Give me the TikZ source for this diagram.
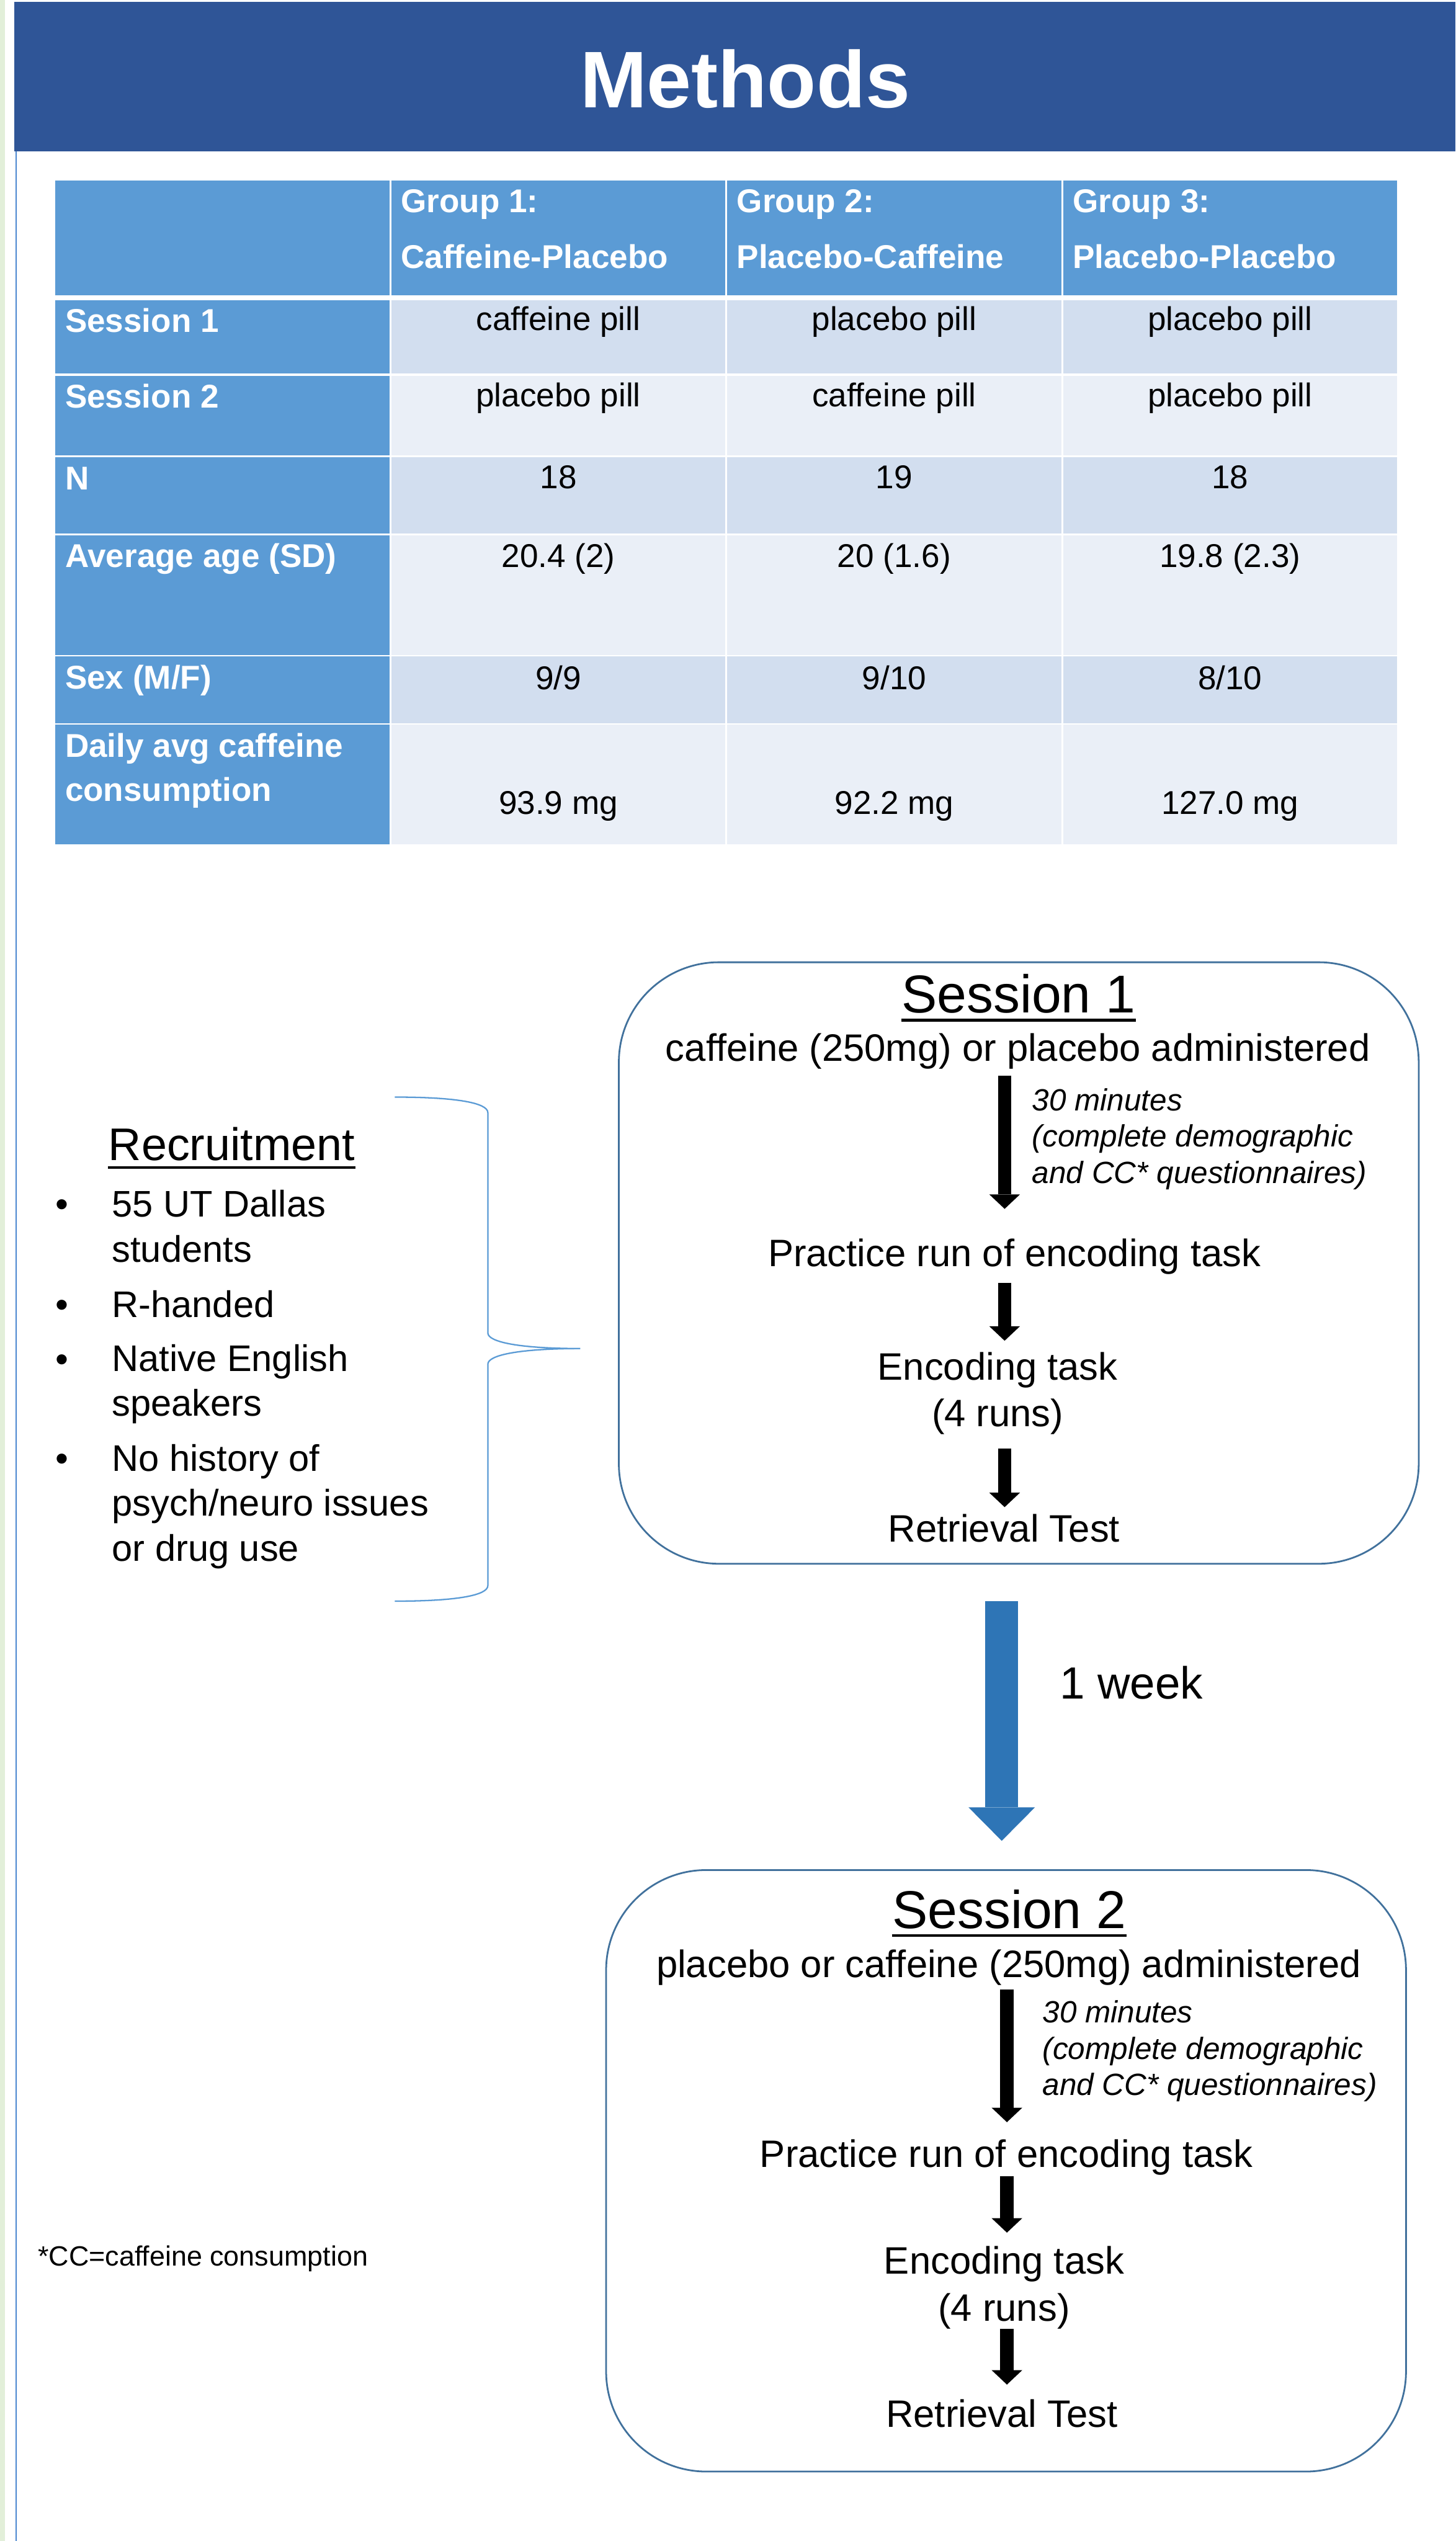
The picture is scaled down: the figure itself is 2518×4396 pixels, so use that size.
\documentclass[tikz,border=0pt]{standalone}
\usepackage{fontspec}
\setmainfont{Liberation Sans}
\usetikzlibrary{arrows.meta}
\definecolor{bandblue}{HTML}{2F5597}
\definecolor{tabblue}{HTML}{5B9BD5}
\definecolor{rowdark}{HTML}{D2DEEF}
\definecolor{rowlight}{HTML}{EAEFF7}
\definecolor{boxline}{HTML}{41719C}
\definecolor{weekblue}{HTML}{2E75B6}
\definecolor{edgegreen}{HTML}{E2EFD9}
\definecolor{edgeblue}{HTML}{4A86D0}
\newcommand{\setfs}[2]{\fontsize{#1}{#2}\selectfont}
\tikzset{
  rowlab/.style={anchor=base west, inner sep=0pt, text=white, font=\setfs{16.2}{19}\bfseries},
  cellval/.style={anchor=base, inner sep=0pt, font=\setfs{16.2}{19}},
  sessbox/.style={draw=boxline, line width=0.85pt, rounded corners=1.73cm, inner sep=0pt,
    minimum width=13.83cm, minimum height=10.4cm},
  sesstitle/.style={anchor=base, inner sep=0pt, font=\setfs{26.2}{30}},
  flowtxt/.style={anchor=base, inner sep=0pt, align=center, font=\setfs{18.8}{23}},
  waitnote/.style={anchor=base west, inner sep=0pt, align=left, font=\setfs{15.1}{17.9}\itshape},
  item/.style={anchor=base west, inner sep=0pt, align=left, font=\setfs{18.2}{22.2}},
  uline/.style={line width=1.4pt},
  blk/.style={line width=0.23cm, -{Triangle[width=0.53cm, length=0.25cm, line width=0pt]}},
  wk/.style={weekblue, line width=0.57cm, -{Triangle[width=1.15cm, length=0.58cm, line width=0pt]}}
}
% one table row: name, top, bottom, band colour, label, three groups, value offset
\newcommand{\tabrow}[9]{%
  \fill[tabblue] (96,#2) rectangle (674,#3);
  \fill[#4] (677,#2) rectangle (1255,#3);
  \fill[#4] (1258,#2) rectangle (1836,#3);
  \fill[#4] (1839,#2) rectangle (2417,#3);
  \node[rowlab] (#1lab) at (112,#2+56) {#5};
  \node[cellval] (#1a) at (966,#2+#9) {#6};
  \node[cellval] (#1b) at (1547,#2+#9) {#7};
  \node[cellval] (#1c) at (2128,#2+#9) {#8};
}
\begin{document}
\begin{tikzpicture}[x=0.01cm, y=-0.01cm]
  \useasboundingbox (0,0) rectangle (2518,4396);
  \fill[edgegreen] (0,0) rectangle (9,4396);
  \draw[edgeblue, line width=0.7pt] (28,262) -- (28,4396);
  \fill[bandblue] (25,3) rectangle (2518,262);
  \node[anchor=base, inner sep=0pt, text=white, font=\setfs{39.5}{45}\bfseries] (title) at (1289,186) {Methods};

  % table
  \fill[tabblue] (96,312) rectangle (674,511);
  \fill[tabblue] (677,312) rectangle (1255,511);
  \fill[tabblue] (1258,312) rectangle (1836,511);
  \fill[tabblue] (1839,312) rectangle (2417,511);
  \node[rowlab] (g1top) at (693,368) {Group 1:};
  \node[rowlab] (g1bot) at (693,464) {Caffeine-Placebo};
  \node[rowlab] (g2top) at (1274,368) {Group 2:};
  \node[rowlab] (g2bot) at (1274,464) {Placebo-Caffeine};
  \node[rowlab] (g3top) at (1855,368) {Group 3:};
  \node[rowlab] (g3bot) at (1855,464) {Placebo-Placebo};
  \tabrow{s1}{519}{646}{rowdark}{Session 1}{caffeine pill}{placebo pill}{placebo pill}{53}
  \tabrow{s2}{650}{788}{rowlight}{Session 2}{placebo pill}{caffeine pill}{placebo pill}{54}
  \tabrow{n}{791}{923}{rowdark}{N}{18}{19}{18}{54}
  \tabrow{age}{926}{1133}{rowlight}{Average age (SD)}{20.4 (2)}{20 (1.6)}{19.8 (2.3)}{56}
  \tabrow{sex}{1136}{1251}{rowdark}{Sex (M/F)}{9/9}{9/10}{8/10}{57}
  \tabrow{caf}{1254}{1461}{rowlight}{Daily avg caffeine}{93.9 mg}{92.2 mg}{127.0 mg}{155}
  \node[rowlab] (caflab2) at (112,1386) {consumption};

  % recruitment (multi-line nodes sit on their last line)
  \node[anchor=base west, inner sep=0pt, font=\setfs{22.5}{27}] (rtitle) at (187,2008) {Recruitment};
  \draw[uline] ([yshift=-3.3pt]rtitle.base west) -- ([yshift=-3.3pt]rtitle.base east);
  \node[item] (it1) at (193,2183) {55 UT Dallas\\students};
  \node[item] (it2) at (193,2279) {R-handed};
  \node[item] (it3) at (193,2450) {Native English\\speakers};
  \node[item] (it4) at (193,2701) {No history of\\psych/neuro issues\\or drug use};
  \node[item, anchor=base] (d1) at (107,2105) {•};
  \node[item, anchor=base] (d2) at (107,2279) {•};
  \node[item, anchor=base] (d3) at (107,2373) {•};
  \node[item, anchor=base] (d4) at (107,2545) {•};
  \draw[tabblue, line width=0.7pt] (683,1898) .. controls (790,1898) and (844,1908) .. (844,1925)
    -- (844,2306) .. controls (844,2322) and (900,2333) .. (1004,2333)
    .. controls (900,2333) and (844,2344) .. (844,2360)
    -- (844,2743) .. controls (844,2760) and (790,2770) .. (683,2770);
  \node[anchor=base west, inner sep=0pt, font=\setfs{13.7}{16}] (cc) at (65,3920) {*CC=caffeine consumption};

  % session 1
  \node[sessbox] (sess1) at (1762.5,2185) {};
  \node[sesstitle] (s1title) at (1762,1752) {Session 1};
  \draw[uline] ([yshift=-3.6pt]s1title.base west) -- ([yshift=-3.6pt]s1title.base east);
  \node[flowtxt] (s1dose) at (1761,1836) {caffeine (250mg) or placebo administered};
  \node[waitnote] (s1wait) at (1785,2047) {30 minutes\\(complete demographic\\and CC* questionnaires)};
  \node[flowtxt] (s1prac) at (1755,2191) {Practice run of encoding task};
  \node[flowtxt] (s1enc) at (1726,2468) {Encoding task\\(4 runs)};
  \node[flowtxt] (s1ret) at (1737,2668) {Retrieval Test};
  \coordinate (s1axis) at (1738,2000);
  \draw[blk, shorten <=0.11cm, shorten >=0.51cm] (s1dose.south -| s1axis) -- (s1prac.north -| s1axis);
  \draw[blk, shorten <=0.14cm, shorten >=0.19cm] (s1prac.south -| s1axis) -- (s1enc.north -| s1axis);
  \draw[blk, shorten <=0.24cm, shorten >=0.12cm] (s1enc.south -| s1axis) -- (s1ret.north -| s1axis);

  % one week later
  \node[sessbox] (sess2) at (1740.5,3755.5) {};
  \coordinate (wkaxis) at (1733,2900);
  \draw[wk, shorten <=0.63cm, shorten >=0.49cm] (sess1.south -| wkaxis) -- (sess2.north -| wkaxis);
  \node[anchor=base west, inner sep=0pt, font=\setfs{22.2}{26}] (wklab) at (1833,2939) {1 week};

  % session 2
  \node[sesstitle] (s2title) at (1746,3336) {Session 2};
  \draw[uline] ([yshift=-3.6pt]s2title.base west) -- ([yshift=-3.6pt]s2title.base east);
  \node[flowtxt] (s2dose) at (1745,3421) {placebo or caffeine (250mg) administered};
  \node[waitnote] (s2wait) at (1803,3625) {30 minutes\\(complete demographic\\and CC* questionnaires)};
  \node[flowtxt] (s2prac) at (1741,3749) {Practice run of encoding task};
  \node[flowtxt] (s2enc) at (1737,4015) {Encoding task\\(4 runs)};
  \node[flowtxt] (s2ret) at (1733,4199) {Retrieval Test};
  \coordinate (s2axis) at (1742,3600);
  \draw[blk, shorten <=0.06cm, shorten >=0.29cm] (s2dose.south -| s2axis) -- (s2prac.north -| s2axis);
  \draw[blk, shorten <=0.01cm, shorten >=0.23cm] (s2prac.south -| s2axis) -- (s2enc.north -| s2axis);
  \draw[blk, shorten <=0cm, shorten >=0.25cm] (s2enc.south -| s2axis) -- (s2ret.north -| s2axis);
\end{tikzpicture}
\end{document}
